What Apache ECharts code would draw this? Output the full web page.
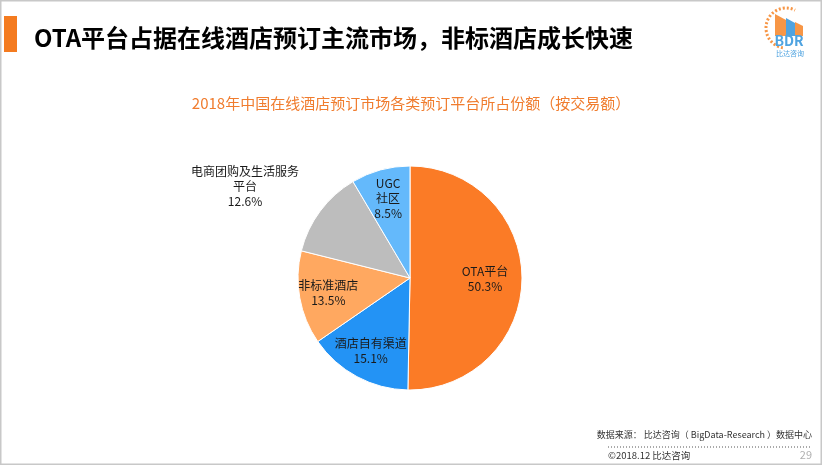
<!DOCTYPE html>
<html><head><meta charset="utf-8">
<script src="https://cdn.jsdelivr.net/npm/echarts@6/dist/echarts.min.js"></script>
<style>html,body{margin:0;padding:0;background:#fff}#c{width:822px;height:465px}</style>
</head><body><div id="c"></div>
<script>
const categories = ['OTA平台','酒店自有渠道','非标准酒店','电商团购及生活服务\n平台','UGC\n社区'];
const shares = [50.3, 15.1, 13.5, 12.6, 8.5];
const sliceColors = ['#FB7B26','#2393F5','#FFA860','#BDBDBD','#64B9FB'];
const headerTitle = 'OTA平台占据在线酒店预订主流市场，非标酒店成长快速';
const chartTitle = '2018年中国在线酒店预订市场各类预订平台所占份额（按交易额）';
const sourceText = '数据来源： 比达咨询（ BigData-Research ）数据中心';
const copyText = '©2018.12 比达咨询';
const pageNo = '29';

const font = '"Noto Sans CJK SC", "Noto Sans", sans-serif';
const chart = echarts.init(document.getElementById('c'));
const data = categories.map((n,i)=>({name:n, value:shares[i], itemStyle:{color:sliceColors[i]}}));
const labelData = categories.map((n,i)=>({name:n, value:shares[i]}));

chart.setOption({
  animation:false,
  backgroundColor:'#fff',
  title:{text:chartTitle, left:'center', top:91, textStyle:{color:'#F07C2E', fontSize:15, fontWeight:'normal', fontFamily:font}},
  graphic:[
    {type:'rect', shape:{x:0.5,y:0.5,width:821,height:464}, style:{fill:'none', stroke:'#C8C8C8', lineWidth:2}},
    {type:'rect', shape:{x:4,y:16,width:13,height:36}, style:{fill:'#F47B20'}},
    {type:'text', x:34, y:38, style:{text:headerTitle, fill:'#000', font:'bold 24px '+font, textVerticalAlign:'middle'}},
    {type:'text', x:812, y:435, style:{text:sourceText, fill:'#333', font:'9px '+font, textAlign:'right', textVerticalAlign:'middle'}},
    {type:'line', shape:{x1:608,y1:447,x2:812,y2:447}, style:{stroke:'#555', lineWidth:1, lineDash:[1,2]}},
    {type:'text', x:608, y:455, style:{text:copyText, fill:'#333', font:'9.5px '+font, textVerticalAlign:'middle'}},
    {type:'text', x:812, y:455, style:{text:pageNo, fill:'#B0B0B0', font:'11px '+font, textAlign:'right', textVerticalAlign:'middle'}},
    // logo
    {type:'arc', shape:{cx:786,cy:28,r:20,startAngle:Math.PI*0.55,endAngle:Math.PI*1.65}, style:{fill:'none', stroke:'#F79646', lineWidth:3, lineDash:[2,2]}},
    {type:'polygon', shape:{points:[[775,36],[775,14],[786,20],[786,36]]}, style:{fill:'#F79646'}},
    {type:'polygon', shape:{points:[[786,36],[786,18],[795,23],[795,36]]}, style:{fill:'#4FA3E0'}},
    {type:'polygon', shape:{points:[[795,36],[795,22],[803,26],[803,36]]}, style:{fill:'#F79646'}},
    {type:'text', x:789, y:41, style:{text:'BDR', fill:'#4FA3E0', font:'bold 14px '+font, textAlign:'center', textVerticalAlign:'middle'}},
    {type:'text', x:790, y:53, style:{text:'比达咨询', fill:'#4FA3E0', font:'7px '+font, textAlign:'center', textVerticalAlign:'middle'}}
  ],
  series:[
    {type:'pie', center:[410,278], radius:[0,112], startAngle:90, clockwise:true, silent:true,
     label:{show:false}, labelLine:{show:false}, itemStyle:{borderColor:'#fff', borderWidth:1}, data:data},
    {type:'pie', center:[410,278], radius:[48,112], startAngle:90, clockwise:true, silent:true,
     itemStyle:{color:'rgba(0,0,0,0)'}, labelLine:{show:false},
     label:{show:true, position:'inside', formatter:p=>p.name+'\n'+p.value.toFixed(1)+'%', color:'#1a1a1a', fontSize:12, lineHeight:15, fontFamily:font},
     labelLayout:function(p){
       if(p.dataIndex===3) return {x:245, y:186, align:'center', verticalAlign:'middle'};
       if(p.dataIndex===0) return {dx:-8, dy:0};
       return {};
     },
     data:labelData}
  ]
});
</script></body></html>
